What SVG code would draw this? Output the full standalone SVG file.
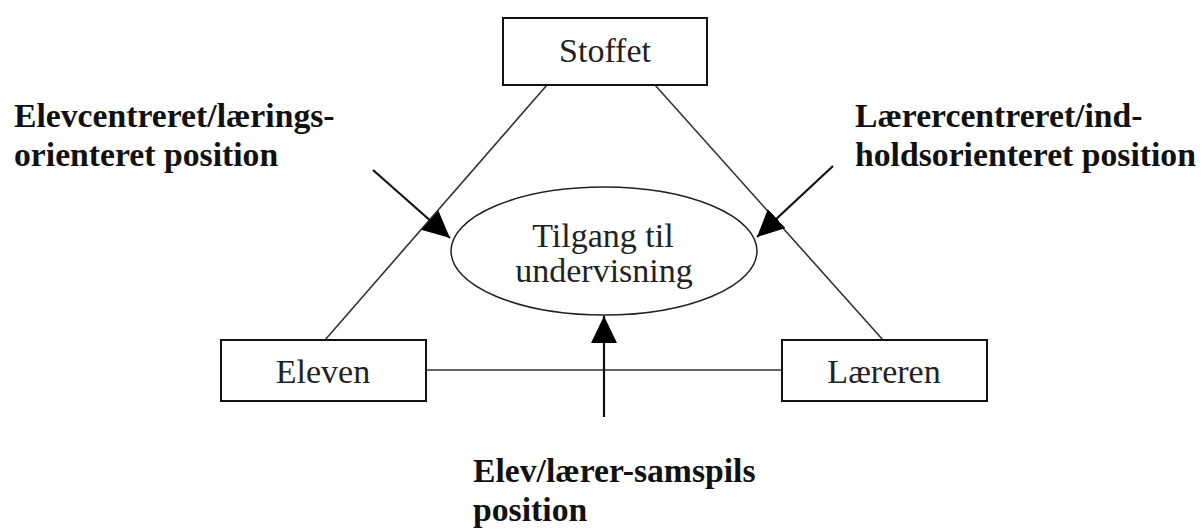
<svg xmlns="http://www.w3.org/2000/svg" width="1202" height="529" viewBox="0 0 1202 529">
<style>
.box{fill:#fff;stroke:#111;stroke-width:2}
.ell{fill:#fff;stroke:#222;stroke-width:1.5}
.line{stroke:#333;stroke-width:1.6;fill:none}
.arr{stroke:#111;stroke-width:2.2;fill:none}
.t{font-family:"Liberation Serif","Times New Roman",serif;font-size:34px;fill:#222;text-anchor:middle}
.b{font-family:"Liberation Serif","Times New Roman",serif;font-size:33.7px;font-weight:bold;fill:#111}
</style>
<defs>
<marker id="ah" viewBox="0 0 27 26" refX="27" refY="13" markerWidth="27" markerHeight="26" markerUnits="userSpaceOnUse" orient="auto">
<path d="M0,0 L27,13 L0,26 Z" fill="#000"/>
</marker>
</defs>
<rect width="1202" height="529" fill="#fff"/>
<g id="connectors">
<line class="line" x1="547" y1="85" x2="325" y2="340"/>
<line class="line" x1="655" y1="85" x2="883" y2="340"/>
<line class="line" x1="426" y1="370" x2="782" y2="370"/>
<line class="arr" x1="373" y1="170" x2="450" y2="238" marker-end="url(#ah)"/>
<line class="arr" x1="833" y1="166" x2="757" y2="237" marker-end="url(#ah)"/>
<line class="arr" x1="604" y1="417" x2="604" y2="316" marker-end="url(#ah)"/>
</g>
<g id="stoffet">
<rect class="box" x="503" y="18" width="204" height="67"/>
<text class="t" x="605" y="62">Stoffet</text>
</g>
<g id="eleven">
<rect class="box" x="221" y="340" width="205" height="61"/>
<text class="t" x="323" y="383">Eleven</text>
</g>
<g id="laereren">
<rect class="box" x="782" y="340" width="205" height="61"/>
<text class="t" x="884" y="383">Læreren</text>
</g>
<g id="tilgang">
<ellipse class="ell" cx="604" cy="251" rx="153" ry="64"/>
<text class="t" x="603" y="247">Tilgang til</text>
<text class="t" x="604" y="282">undervisning</text>
</g>
<g id="label-elev">
<text class="b" x="14" y="127">Elevcentreret/lærings-</text>
<text class="b" x="14" y="166">orienteret position</text>
</g>
<g id="label-laerer">
<text class="b" x="855" y="127">Lærercentreret/ind-</text>
<text class="b" x="855" y="166">holdsorienteret position</text>
</g>
<g id="label-samspil">
<text class="b" x="473" y="482">Elev/lærer-samspils</text>
<text class="b" x="473" y="521">position</text>
</g>
</svg>
